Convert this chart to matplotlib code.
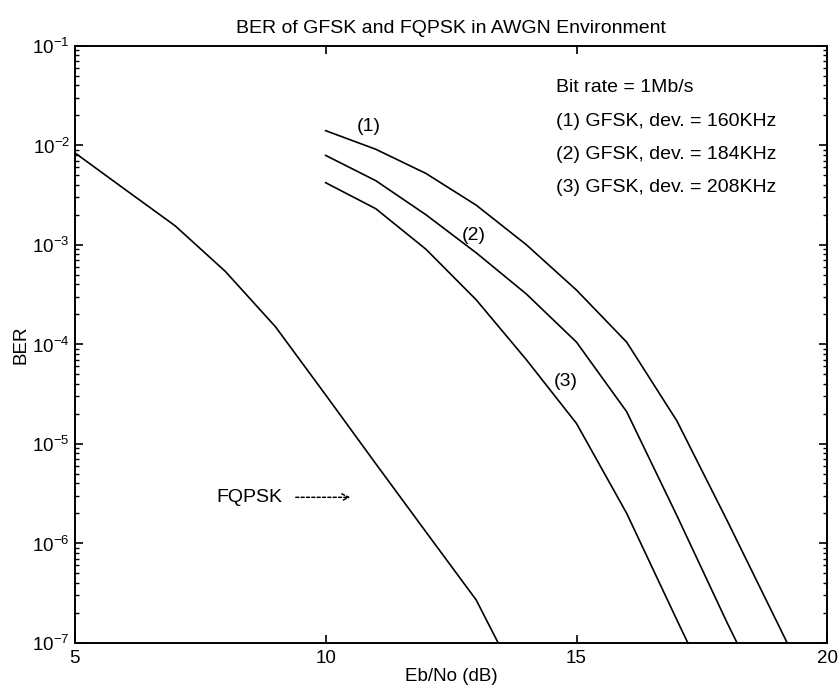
import numpy as np
import matplotlib
matplotlib.use('Agg')
import matplotlib.pyplot as plt
from matplotlib.ticker import FixedLocator, NullFormatter

plt.rcParams['font.family'] = ['Liberation Sans', 'DejaVu Sans']
plt.rcParams['mathtext.fontset'] = 'custom'
plt.rcParams['mathtext.rm'] = 'Liberation Sans'

# FQPSK curve (Eb/No in dB, BER)
fqpsk_ebno = [5, 6, 7, 8, 9, 10, 11, 12, 13, 14]
fqpsk_ber = [8.4e-3, 3.6e-3, 1.55e-3, 5.4e-4, 1.5e-4, 3.1e-5, 6.3e-6, 1.3e-6, 2.7e-7, 2.8e-8]

# GFSK curves, bit rate 1 Mb/s
gfsk_ebno = [10, 11, 12, 13, 14, 15, 16, 17, 18, 19, 20]
gfsk_160 = [1.4e-2, 9.1e-3, 5.2e-3, 2.5e-3, 1.0e-3, 3.5e-4, 1.05e-4, 1.7e-5, 1.7e-6, 1.6e-7, 1.5e-8]
gfsk_184 = [7.9e-3, 4.4e-3, 2.0e-3, 8.3e-4, 3.2e-4, 1.05e-4, 2.1e-5, 1.9e-6, 1.6e-7, 1.5e-8, 1.4e-9]
gfsk_208 = [4.2e-3, 2.3e-3, 9.0e-4, 2.8e-4, 7.0e-5, 1.6e-5, 2.0e-6, 1.7e-7, 1.5e-8, 1.4e-9, 1.3e-10]

x_ticks = [5, 10, 15, 20]
y_exponents = [-7, -6, -5, -4, -3, -2, -1]

legend_lines = ['Bit rate = 1Mb/s',
                '(1) GFSK, dev. = 160KHz',
                '(2) GFSK, dev. = 184KHz',
                '(3) GFSK, dev. = 208KHz']

fig = plt.figure(figsize=(8.4, 6.92), dpi=100)
ax = fig.add_axes([0.089, 0.071, 0.896, 0.863])

ax.semilogy(fqpsk_ebno, fqpsk_ber, color='black', lw=1.2)
ax.semilogy(gfsk_ebno, gfsk_160, color='black', lw=1.2)
ax.semilogy(gfsk_ebno, gfsk_184, color='black', lw=1.2)
ax.semilogy(gfsk_ebno, gfsk_208, color='black', lw=1.2)

ax.set_xlim(5, 20)
ax.set_ylim(1e-7, 1e-1)

# explicit ticks so no off-axis labels get created
major_y = [10.0 ** e for e in y_exponents]
minor_y = [m * 10.0 ** e for e in y_exponents[:-1] for m in range(2, 10)]
ax.xaxis.set_major_locator(FixedLocator(x_ticks))
ax.set_xticklabels([str(v) for v in x_ticks])
ax.yaxis.set_major_locator(FixedLocator(major_y))
ax.set_yticklabels(['$10^{%d}$' % e for e in y_exponents])
ax.yaxis.set_minor_locator(FixedLocator(minor_y))
ax.yaxis.set_minor_formatter(NullFormatter())
ax.tick_params(which='both', direction='in', top=True, right=True, labelsize=13.5)
ax.tick_params(axis='x', pad=5)
ax.tick_params(which='major', length=6, width=1.2)
ax.tick_params(which='minor', length=3, width=1.0)
for s in ax.spines.values():
    s.set_linewidth(1.4)

ax.set_title('BER of GFSK and FQPSK in AWGN Environment', fontsize=14, pad=9)
ax.set_xlabel('Eb/No (dB)', fontsize=13.5, labelpad=1)
ax.set_ylabel('BER', fontsize=13.5, labelpad=2)

# legend-like text block
for txt, yv in zip(legend_lines, [3.8e-2, 1.75e-2, 8.0e-3, 3.8e-3]):
    ax.text(14.6, yv, txt, fontsize=14, va='center', ha='left')

# curve labels
ax.text(10.85, 1.55e-2, '(1)', fontsize=14, ha='center', va='center')
ax.text(12.95, 1.25e-3, '(2)', fontsize=14, ha='center', va='center')
ax.text(14.78, 4.2e-5, '(3)', fontsize=14, ha='center', va='center')

ax.text(7.82, 2.9e-6, 'FQPSK', fontsize=14, ha='left', va='center')
ax.annotate('', xy=(10.55, 2.9e-6), xytext=(9.35, 2.9e-6),
            arrowprops=dict(arrowstyle='->,head_length=0.5,head_width=0.25',
                            linestyle=(0, (2, 1.5)), color='black', lw=1.1))

fig.savefig('out.png', dpi=100)
